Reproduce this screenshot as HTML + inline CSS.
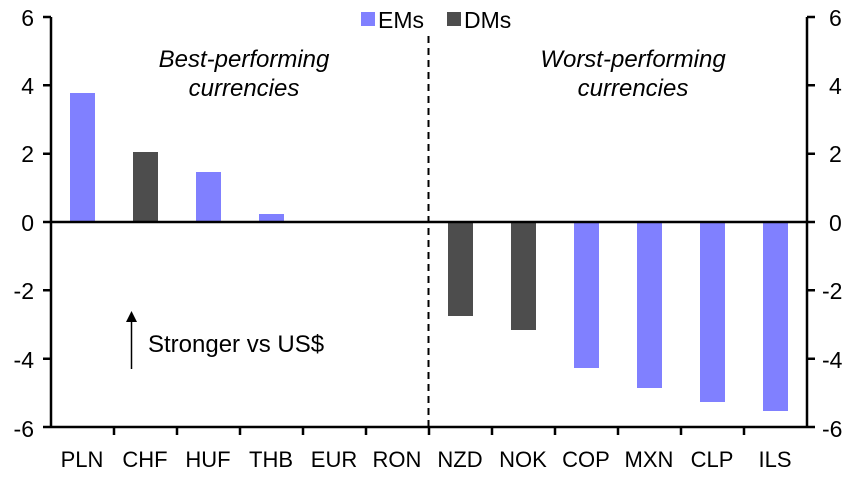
<!DOCTYPE html>
<html><head><style>body{margin:0;background:#fff}</style></head><body>
<svg width="860" height="473" xmlns="http://www.w3.org/2000/svg" font-family="Liberation Sans, Arial, sans-serif">
<g fill="#8080ff">
<rect x="70" y="93" width="25" height="129"/>
<rect x="196" y="172" width="25" height="50"/>
<rect x="259" y="214" width="25" height="8"/>
<rect x="574" y="222" width="25" height="146"/>
<rect x="637" y="222" width="25" height="166"/>
<rect x="700" y="222" width="25" height="180"/>
<rect x="763" y="222" width="25" height="189"/>
</g>
<g fill="#4d4d4d">
<rect x="133" y="152" width="25" height="70"/>
<rect x="448" y="222" width="25" height="94"/>
<rect x="511" y="222" width="25" height="108"/>
</g>
<line x1="428.5" y1="36" x2="428.5" y2="427" stroke="#000" stroke-width="2" stroke-dasharray="7,5"/>
<g stroke="#000" stroke-width="2.5" fill="none">
<line x1="51" y1="17" x2="51" y2="428"/>
<line x1="807" y1="17" x2="807" y2="428"/>
<line x1="51" y1="222" x2="807" y2="222"/>
<line x1="51" y1="427" x2="807" y2="427"/>
<path d="M43 17H51M43 85.3H51M43 153.7H51M43 222H51M43 290.3H51M43 358.7H51M43 427H51"/>
<path d="M807 17H815M807 85.3H815M807 153.7H815M807 222H815M807 290.3H815M807 358.7H815M807 427H815"/>
<path d="M114 427V435M177 427V435M240 427V435M303 427V435M366 427V435M429 427V435M492 427V435M555 427V435M618 427V435M681 427V435M744 427V435"/>
</g>
<g font-size="23" text-anchor="end">
<text x="34" y="26">6</text><text x="34" y="94">4</text><text x="34" y="162">2</text><text x="34" y="231">0</text><text x="34" y="299">-2</text><text x="34" y="368">-4</text><text x="34" y="437">-6</text>
</g>
<g font-size="23">
<text x="829" y="26">6</text><text x="829" y="94">4</text><text x="829" y="162">2</text><text x="829" y="231">0</text><text x="822" y="299">-2</text><text x="822" y="368">-4</text><text x="822" y="437">-6</text>
</g>
<g font-size="22" text-anchor="middle">
<text x="82" y="467">PLN</text><text x="145" y="467">CHF</text><text x="208" y="467">HUF</text><text x="271" y="467">THB</text><text x="334" y="467">EUR</text><text x="397" y="467">RON</text><text x="460" y="467">NZD</text><text x="523" y="467">NOK</text><text x="586" y="467">COP</text><text x="649" y="467">MXN</text><text x="712" y="467">CLP</text><text x="775" y="467">ILS</text>
</g>
<rect x="361" y="12" width="14" height="14" fill="#8080ff"/>
<text x="378" y="28" font-size="23">EMs</text>
<rect x="447" y="12" width="14" height="14" fill="#4d4d4d"/>
<text x="464" y="28" font-size="23">DMs</text>
<g font-size="24" font-style="italic" text-anchor="middle">
<text x="244" y="67">Best-performing</text><text x="244" y="96">currencies</text>
<text x="633" y="67">Worst-performing</text><text x="633" y="96">currencies</text>
</g>
<line x1="131.5" y1="369" x2="131.5" y2="318" stroke="#000" stroke-width="1.5"/>
<path d="M126 322L131.5 311L137 322Z" fill="#000"/>
<text x="148" y="352" font-size="24">Stronger vs US$</text>
</svg>
</body></html>
